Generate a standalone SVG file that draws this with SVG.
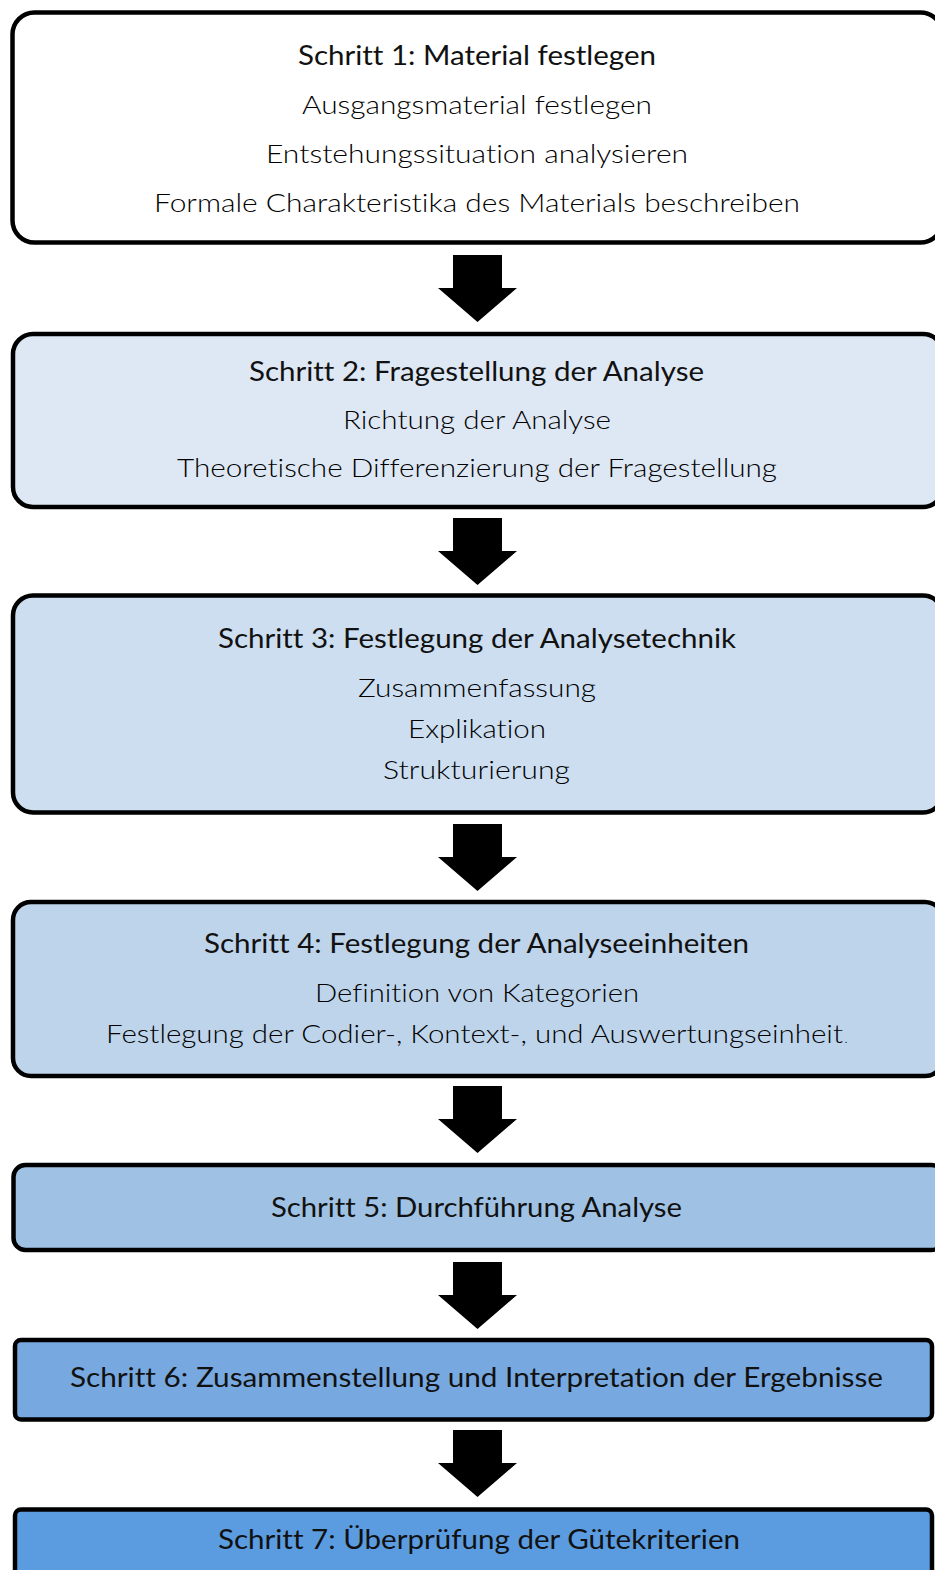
<svg xmlns="http://www.w3.org/2000/svg" width="935" height="1570" viewBox="0 0 935 1570">
<style>
.box{stroke:#000;stroke-width:4.5}
.t{font-family:Lato,"Open Sans","Liberation Sans",sans-serif;font-size:26px;fill:#111;text-anchor:middle;font-variant-ligatures:none}
.b{font-weight:300;fill:#000}
.arr{fill:#000}
</style>
<defs>
<path id="arrow" d="M453,0 H502 V33 H517 L477.5,67 L438,33 H453 Z"/>
</defs>
<g id="connectors">
<use href="#arrow" class="arr" y="255"/>
<use href="#arrow" class="arr" y="518"/>
<use href="#arrow" class="arr" y="824"/>
<use href="#arrow" class="arr" y="1086"/>
<use href="#arrow" class="arr" y="1262"/>
<use href="#arrow" class="arr" y="1430"/>
</g>
<g id="step1">
<rect class="box" x="12.5" y="12.5" width="930" height="230" rx="22" fill="#ffffff"/>
<text class="t" x="477" y="65" textLength="358" lengthAdjust="spacingAndGlyphs">Schritt 1: Material festlegen</text>
<text class="t b" x="477" y="114" textLength="350" lengthAdjust="spacingAndGlyphs">Ausgangsmaterial festlegen</text>
<text class="t b" x="477" y="163" textLength="422" lengthAdjust="spacingAndGlyphs">Entstehungssituation analysieren</text>
<text class="t b" x="477" y="212" textLength="646" lengthAdjust="spacingAndGlyphs">Formale Charakteristika des Materials beschreiben</text>
</g>
<g id="step2">
<rect class="box" x="13" y="334" width="930" height="173" rx="20" fill="#dee8f5"/>
<text class="t" x="476.5" y="381" textLength="455" lengthAdjust="spacingAndGlyphs">Schritt 2: Fragestellung der Analyse</text>
<text class="t b" x="477" y="429" textLength="268" lengthAdjust="spacingAndGlyphs">Richtung der Analyse</text>
<text class="t b" x="477" y="477" textLength="600" lengthAdjust="spacingAndGlyphs">Theoretische Differenzierung der Fragestellung</text>
</g>
<g id="step3">
<rect class="box" x="13" y="595.5" width="930" height="217" rx="20" fill="#ccdef0"/>
<text class="t" x="477" y="648" textLength="518" lengthAdjust="spacingAndGlyphs">Schritt 3: Festlegung der Analysetechnik</text>
<text class="t b" x="477" y="697" textLength="238" lengthAdjust="spacingAndGlyphs">Zusammenfassung</text>
<text class="t b" x="477" y="738" textLength="138" lengthAdjust="spacingAndGlyphs">Explikation</text>
<text class="t b" x="476.5" y="779" textLength="187" lengthAdjust="spacingAndGlyphs">Strukturierung</text>
</g>
<g id="step4">
<rect class="box" x="13" y="902" width="930" height="174" rx="18" fill="#bed4eb"/>
<text class="t" x="476.5" y="953" textLength="545" lengthAdjust="spacingAndGlyphs">Schritt 4: Festlegung der Analyseeinheiten</text>
<text class="t b" x="477" y="1002" textLength="324" lengthAdjust="spacingAndGlyphs">Definition von Kategorien</text>
<text class="t b" x="474.5" y="1043" textLength="737" lengthAdjust="spacingAndGlyphs">Festlegung der Codier-, Kontext-, und Auswertungseinheit</text>
<text class="t b" x="846" y="1043" style="font-size:13px">.</text>
</g>
<g id="step5">
<rect class="box" x="13.5" y="1165" width="930" height="85" rx="12" fill="#9fc2e4"/>
<text class="t" x="476.5" y="1217" textLength="411" lengthAdjust="spacingAndGlyphs">Schritt 5: Durchführung Analyse</text>
</g>
<g id="step6">
<rect class="box" x="15" y="1340" width="917" height="79.5" rx="6" fill="#77a9e0"/>
<text class="t" x="476.5" y="1387" textLength="813" lengthAdjust="spacingAndGlyphs">Schritt 6: Zusammenstellung und Interpretation der Ergebnisse</text>
</g>
<g id="step7">
<rect class="box" x="15" y="1509.5" width="917" height="90" rx="6" fill="#5b9ce0"/>
<text class="t" x="479" y="1549" textLength="522" lengthAdjust="spacingAndGlyphs">Schritt 7: Überprüfung der Gütekriterien</text>
</g>
</svg>
